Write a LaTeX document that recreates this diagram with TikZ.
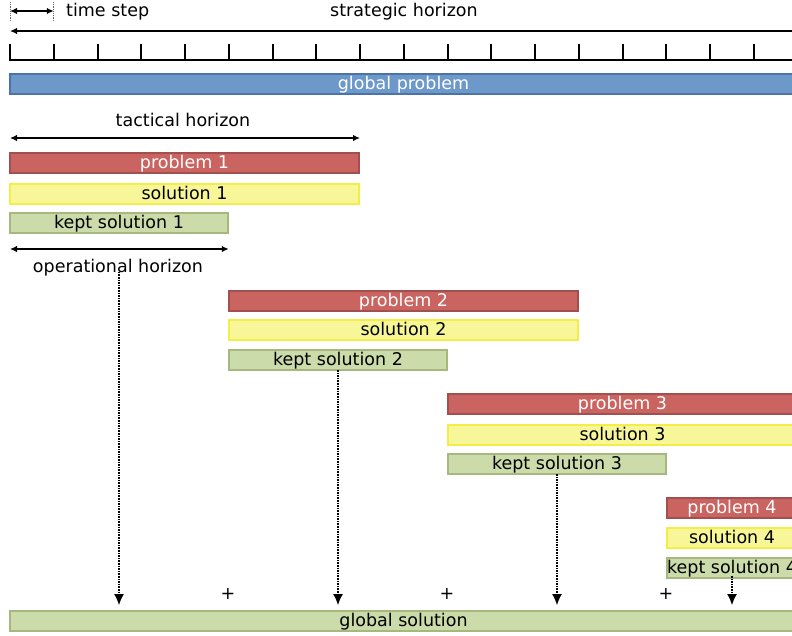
\documentclass[tikz,border=0pt]{standalone}
\usepackage{fontspec}
\setmainfont{DejaVu Sans}
\usetikzlibrary{arrows.meta}
\definecolor{gpfill}{HTML}{6C98CA}
\definecolor{gpdraw}{HTML}{4C72A6}
\definecolor{pbfill}{HTML}{C96461}
\definecolor{pbdraw}{HTML}{A24F4F}
\definecolor{slfill}{HTML}{F7F799}
\definecolor{sldraw}{HTML}{F3EE45}
\definecolor{kpfill}{HTML}{CCDBAA}
\definecolor{kpdraw}{HTML}{A6B87D}
\tikzset{
  barbox/.style={line width=2pt, minimum height=20pt, inner sep=0pt,
    text height=13.5pt, text depth=3.5pt},
  globalbox/.style={barbox, fill=gpfill, draw=gpdraw, text=white},
  probbox/.style={barbox, fill=pbfill, draw=pbdraw, text=white},
  solbox/.style={barbox, fill=slfill, draw=sldraw, text=black},
  keptbox/.style={barbox, fill=kpfill, draw=kpdraw, text=black},
  label/.style={inner sep=0pt, anchor=base},
  span/.style={line width=1.4pt, {Latex[length=7pt,width=6.5pt]}-{Latex[length=7pt,width=6.5pt]}},
  feed/.style={line width=1.1pt, dash pattern=on 1.6pt off 1pt,
    -{Latex[length=11pt,width=10pt]}, shorten >=5pt},
}
\begin{document}
\begin{tikzpicture}[x=1pt, y=-1pt, font=\fontsize{17.5}{20}\selectfont]
\useasboundingbox (0,0) rectangle (792,635);
\clip (0,0) rectangle (792,635);

% time step indicator
\coordinate (ts0) at (10,11);
\coordinate (ts1) at (53.75,11);
\draw[line width=0.7pt, dash pattern=on 1.2pt off 1pt, black!60] (10,2) -- (10,21) (53.75,2) -- (53.75,21);
\draw[span] (ts0) -- (ts1);
\node[label] (tstext) at (66,16) [anchor=base west] {time step};

% strategic horizon
\node[label] (strat) at (404,16) {strategic horizon};
\coordinate (sh0) at (10,31);
\coordinate (sh1) at (1016,31);
\draw[span] (sh0) -- (sh1);

% time axis with ticks
\draw[line width=2pt] (10,44) -- (10,60) -- (800,60);
\foreach \k in {1,...,18}
  \draw[line width=2pt] ({10+43.75*\k},44) -- ({10+43.75*\k},60);

% global problem
\node[globalbox, minimum width=787pt] (gp) at (403.5,84) {global problem};

% tactical horizon
\node[label] (tact) at (183,126) {tactical horizon};
\coordinate (th0) at (10,138);
\coordinate (th1) at (360,138);
\draw[span] (th0) -- (th1);

% horizon 1
\node[probbox, minimum width=349pt] (p1) at (184.5,163) {problem 1};
\node[solbox,  minimum width=349pt] (s1) at (184.5,194) {solution 1};
\node[keptbox, minimum width=218pt] (k1) at (119,223) {kept solution 1};

% operational horizon
\coordinate (oh0) at (10,249);
\coordinate (oh1) at (228.75,249);
\draw[span] (oh0) -- (oh1);
\node[label] (oper) at (118,272) {operational horizon};

% horizon 2
\node[probbox, minimum width=349pt] (p2) at (403.5,301) {problem 2};
\node[solbox,  minimum width=349pt] (s2) at (403.5,330) {solution 2};
\node[keptbox, minimum width=218pt] (k2) at (338,360) {kept solution 2};

% horizon 3
\node[probbox, minimum width=349pt] (p3) at (622.5,404) {problem 3};
\node[solbox,  minimum width=349pt] (s3) at (622.5,435) {solution 3};
\node[keptbox, minimum width=218pt] (k3) at (557,464) {kept solution 3};

% horizon 4
\node[probbox, minimum width=130pt] (p4) at (732,508) {problem 4};
\node[solbox,  minimum width=130pt] (s4) at (732,538) {solution 4};
\node[keptbox, minimum width=130pt] (k4) at (732,568) {kept solution 4};

% global solution
\node[keptbox, minimum width=787pt] (gs) at (403.5,621) {global solution};

% concatenation signs
\node[inner sep=0pt] (plus1) at (228,594) {+};
\node[inner sep=0pt] (plus2) at (447,594) {+};
\node[inner sep=0pt] (plus3) at (666,594) {+};

% kept parts feeding the global solution
\draw[feed] ([yshift=4pt]oper.south -| k1.south) -- (k1.south |- gs.north);
\draw[feed] ([yshift=1pt]k2.south) -- (k2.south |- gs.north);
\draw[feed] ([yshift=1pt]k3.south) -- (k3.south |- gs.north);
\draw[feed] ([yshift=3pt]k4.south) -- (k4.south |- gs.north);
\end{tikzpicture}
\end{document}
